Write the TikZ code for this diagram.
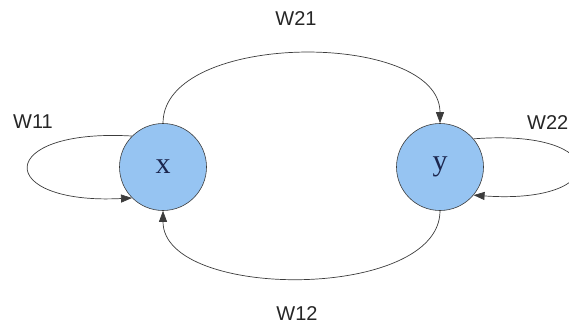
\documentclass[tikz,border=0pt]{standalone}
\usepackage{fontspec}
\setmainfont{Liberation Serif}
\setsansfont{Liberation Sans}
\usetikzlibrary{arrows.meta}
\definecolor{nodefill}{RGB}{150,196,242}
\definecolor{nodetext}{RGB}{28,38,78}
\definecolor{linegray}{RGB}{60,60,60}
\tikzset{
  neuron/.style={circle, draw=linegray, line width=0.6pt, fill=nodefill, minimum size=87pt, inner sep=0pt,
    font=\fontsize{30}{32}\selectfont, text=nodetext},
  wlabel/.style={font=\sffamily\fontsize{20}{22}\selectfont, text=black!85, inner sep=0pt},
  conn/.style={draw=linegray, line width=0.7pt, -{Triangle[length=11pt,width=8pt]}}
}
\begin{document}
\begin{tikzpicture}[x=1pt,y=-1pt]
\useasboundingbox (0,0) rectangle (569,327);
\node[neuron] (x) at (163,167) {x};
\node[neuron] (y) at (440,167) {y};
\node[wlabel] (w11) at (33,122) {W11};
\node[wlabel] (w21) at (296,19) {W21};
\node[wlabel] (w12) at (297,314) {W12};
\node[wlabel, anchor=west] (w22) at (527,123) {W22};
\draw[conn] (x.north) .. controls +(0,-93) and +(0,-93) .. (y.north);
\draw[conn] (y.south) .. controls +(0,90) and +(0,90) .. (x.south);
\draw[conn] (x.135) .. controls (-6,128) and (-6,205) .. (x.225);
\draw[conn] (y.40) .. controls (612,128) and (612,205) .. (y.-40);
\end{tikzpicture}
\end{document}
